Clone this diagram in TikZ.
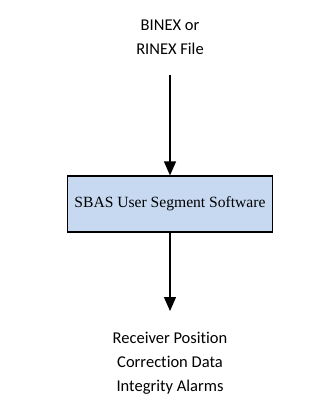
\documentclass[tikz,border=0pt]{standalone}
\usepackage{fontspec}
\setmainfont{Liberation Serif}
\newfontfamily\labelfont[Ligatures=NoCommon]{Carlito}
\usetikzlibrary{arrows.meta}
\definecolor{boxblue}{RGB}{198,217,241}
\tikzset{
  x=1pt, y=-1pt,
  flowlabel/.style={align=center, font=\labelfont\fontsize{16.5}{24}\selectfont, inner sep=0pt},
  procbox/.style={draw=black, line width=1.2pt, fill=boxblue, minimum width=205pt, minimum height=56pt,
    font=\fontsize{15.6}{19}\selectfont, inner sep=0pt},
  flow/.style={line width=1.3pt, -{Triangle[length=14pt,width=12pt]}}
}
\begin{document}
\begin{tikzpicture}
  \useasboundingbox (0,0) rectangle (331,406);
  \node[flowlabel] (input) at (170,37) {BINEX or\\RINEX File};
  \node[procbox] (sw) at (170,204) {SBAS User Segment Software};
  \node[flowlabel] (output) at (170,363) {Receiver Position\\Correction Data\\Integrity Alarms};
  \coordinate (inStart) at (170,75);
  \coordinate (outEnd) at (170,311);
  \draw[flow] (inStart) -- (sw.north);
  \draw[flow] (sw.south) -- (outEnd);
\end{tikzpicture}
\end{document}
